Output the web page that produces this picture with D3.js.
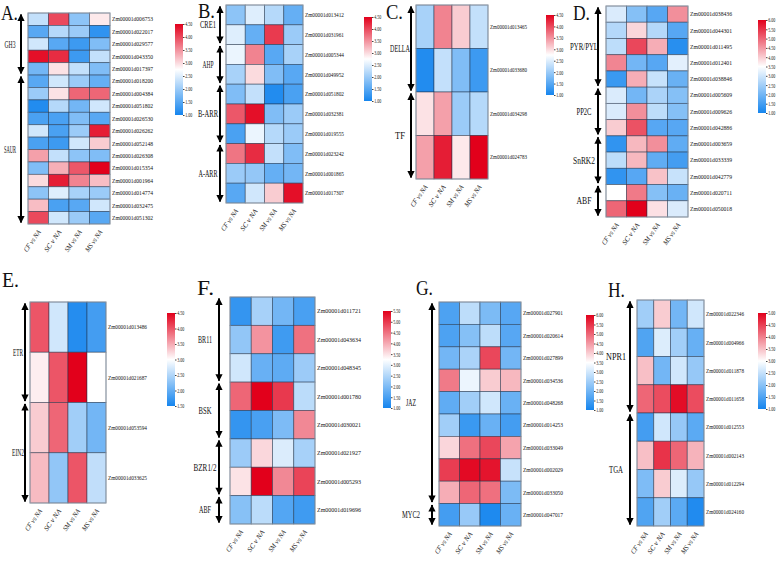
<!DOCTYPE html>
<html lang="en">
<head>
<meta charset="UTF-8">
<title>Heatmaps</title>
<script src="https://d3js.org/d3.v7.min.js"></script>
<style>
  body { margin: 0; background: #fff; }
  text { font-family: "Liberation Serif", "DejaVu Serif", serif; fill: #111; }
</style>
</head>
<body>
<svg id="chart" width="778" height="564"></svg>
<script>
// column labels shared by all panels
const columns = ["CF vs NA", "SC v NA", "SM vs NA", "MS vs NA"];

// A. auxin
const genesA = ["Zm00001d006753","Zm00001d022017","Zm00001d029577","Zm00001d043350","Zm00001d017397",
  "Zm00001d018200","Zm00001d004384","Zm00001d051802","Zm00001d026530","Zm00001d026262","Zm00001d052148",
  "Zm00001d026308","Zm00001d015354","Zm00001d001964","Zm00001d014774","Zm00001d032475","Zm00001d051302"];
const groupsA = [["GH3", 5], ["SAUR", 12]];
const valuesA = [
  [2.3,4.0,1.9,2.9],[1.5,2.2,2.0,1.2],[2.4,1.5,1.3,1.8],[4.4,4.2,1.3,2.3],[1.7,2.95,2.3,1.8],
  [1.5,2.4,2.0,1.6],[2.0,2.95,3.8,3.8],[1.1,2.2,1.7,2.4],[1.4,1.4,1.8,1.5],[2.4,1.4,2.0,4.3],
  [1.4,1.3,2.4,3.1],[3.4,2.3,1.9,1.8],[1.8,3.3,3.9,4.5],[3.0,4.3,3.6,3.2],[1.9,2.5,2.1,2.0],
  [3.2,1.4,1.5,2.4],[4.0,2.4,2.0,1.5]];

// B. cytokinin
const genesB = ["Zm00001d013412","Zm00001d031961","Zm00001d005344","Zm00001d049952","Zm00001d051802",
  "Zm00001d032381","Zm00001d019555","Zm00001d023242","Zm00001d001865","Zm00001d017307"];
const groupsB = [["CRE1", 2], ["AHP", 2], ["B-ARR", 3], ["A-ARR", 3]];
const valuesB = [
  [1.9,2.5,2.2,1.6],[2.5,1.6,4.1,2.0],[2.6,3.6,1.5,2.1],[2.1,3.0,1.8,1.5],[1.8,2.3,1.1,1.4],
  [3.9,4.4,1.8,2.0],[1.4,2.6,2.2,2.0],[3.7,4.2,2.3,1.8],[2.0,1.95,1.6,1.7],[1.5,2.4,3.1,4.4]];

// C. gibberellin
const genesC = ["Zm00001d013465","Zm00001d033680","Zm00001d034298","Zm00001d024783"];
const groupsC = [["DELLA", 2], ["TF", 2]];
const valuesC = [[2.1,3.6,3.1,2.3],[1.1,2.3,1.8,1.3],[2.95,3.4,2.0,2.2],[3.4,4.3,2.9,4.5]];

// D. abscisic acid
const genesD = ["Zm00001d038436","Zm00001d044301","Zm00001d011495","Zm00001d012401","Zm00001d038846",
  "Zm00001d005609","Zm00001d009626","Zm00001d042886","Zm00001d003659","Zm00001d033339",
  "Zm00001d042779","Zm00001d020711","Zm00001d050018"];
const groupsD = [["PYR/PYL", 5], ["PP2C", 3], ["SnRK2", 3], ["ABF", 2]];
const valuesD = [
  [3.1,2.2,1.7,4.6],[2.7,3.9,2.7,1.7],[2.8,5.3,4.3,1.2],[4.7,2.0,1.7,3.2],[1.4,4.3,2.9,1.9],
  [3.1,2.0,2.6,2.2],[3.1,4.6,2.8,2.2],[4.0,5.2,1.7,1.7],[1.3,4.2,4.6,1.8],[2.8,4.2,1.8,1.5],
  [1.3,1.7,4.1,2.9],[3.5,4.8,2.2,1.9],[5.0,6.0,3.8,3.1]];

// E. ethylene
const genesE = ["Zm00001d013486","Zm00001d021687","Zm00001d053594","Zm00001d033625"];
const groupsE = [["ETR", 2], ["EIN2", 2]];
const valuesE = [[4.0,2.7,1.6,1.8],[3.1,4.0,4.5,3.0],[3.3,3.9,2.4,2.1],[3.4,2.3,4.0,2.6]];

// F. brassinosteroid
const genesF = ["Zm00001d011721","Zm00001d043634","Zm00001d048345","Zm00001d001780","Zm00001d030021",
  "Zm00001d021927","Zm00001d005293","Zm00001d019696"];
const groupsF = [["BR11", 3], ["BSK", 2], ["BZR1/2", 2], ["ABF", 1]];
const valuesF = [
  [1.3,2.4,1.9,1.5],[2.2,4.2,1.4,4.5],[2.8,1.8,1.7,2.3],[4.6,5.5,5.0,2.6],
  [1.3,1.5,2.0,4.3],[2.3,3.6,2.9,2.4],[3.5,5.5,4.3,4.9],[2.1,2.6,1.6,1.4]];

// G. jasmonic acid
const genesG = ["Zm00001d027901","Zm00001d020614","Zm00001d027899","Zm00001d034536","Zm00001d048268",
  "Zm00001d014253","Zm00001d033049","Zm00001d002029","Zm00001d033050","Zm00001d047017"];
const groupsG = [["JAZ", 9], ["MYC2", 1]];
const valuesG = [
  [1.6,2.8,2.1,1.7],[1.6,2.2,2.8,1.7],[2.0,2.6,5.3,2.0],[4.8,3.3,4.0,4.2],[1.8,2.5,3.0,1.9],
  [2.5,1.4,1.9,1.5],[3.9,4.9,5.3,4.4],[5.4,5.9,5.8,2.9],[4.3,5.0,4.9,2.1],[1.5,2.4,1.1,1.9]];

// H. salicylic acid
const genesH = ["Zm00001d022346","Zm00001d004966","Zm00001d011878","Zm00001d011658","Zm00001d012553",
  "Zm00001d002143","Zm00001d012294","Zm00001d024160"];
const groupsH = [["NPR1", 4], ["TGA", 4]];
const valuesH = [
  [2.2,3.4,1.8,2.6],[1.5,2.7,2.2,1.7],[3.5,1.8,2.6,2.1],[4.2,4.4,4.9,4.4],
  [1.4,2.6,2.1,1.6],[3.5,4.6,4.2,3.6],[1.9,3.4,2.7,2.1],[1.5,2.2,1.6,1.1]];

// legend ranges
const domainA = [1, 4.5], domainB = [1, 4.5], domainC = [1, 4.5], domainD = [1, 6];
const domainE = [1.5, 4.5], domainF = [1, 5.5], domainG = [1, 6], domainH = [1, 5];

// layout of each panel
const panels = [
  { name: "A.", genes: genesA, groups: groupsA, values: valuesA, domain: domainA,
    x0: 28, x1: 110, y0: 13, y1: 224, arrowX: 21, labelX: 10, lx: 175, ly0: 24, ly1: 115,
    letter: [1, 20], geneLen: 41, gw: { GH3: 11, SAUR: 12 } },
  { name: "B.", genes: genesB, groups: groupsB, values: valuesB, domain: domainB,
    x0: 226, x1: 303, y0: 5, y1: 203, arrowX: 220, labelX: 208, lx: 364, ly0: 17, ly1: 101,
    letter: [198, 18], geneLen: 39, gw: { "CRE1": 16, "AHP": 11, "B-ARR": 20, "A-ARR": 19 } },
  { name: "C.", genes: genesC, groups: groupsC, values: valuesC, domain: domainC,
    x0: 416, x1: 488, y0: 5, y1: 179, arrowX: 411, labelX: 400, lx: 546, ly0: 15, ly1: 95,
    letter: [386, 19], geneLen: 37, gw: { DELLA: 20, TF: 10 } },
  { name: "D.", genes: genesD, groups: groupsD, values: valuesD, domain: domainD,
    x0: 606, x1: 688, y0: 6, y1: 217, arrowX: 598, labelX: 584, lx: 758, ly0: 20, ly1: 113,
    letter: [573, 20], geneLen: 42, gw: { "PYR/PYL": 28, PP2C: 15, SnRK2: 22, ABF: 15 } },
  { name: "E.", genes: genesE, groups: groupsE, values: valuesE, domain: domainE,
    x0: 30, x1: 106, y0: 302, y1: 503, arrowX: 25, labelX: 18, lx: 167, ly0: 313, ly1: 406,
    letter: [2, 287], geneLen: 39, gw: { ETR: 10, EIN2: 12 } },
  { name: "F.", genes: genesF, groups: groupsF, values: valuesF, domain: domainF,
    x0: 230, x1: 315, y0: 297, y1: 524, arrowX: 219, labelX: 205, lx: 383, ly0: 311, ly1: 408,
    letter: [197, 295], geneLen: 44, gw: { BR11: 14, BSK: 13, "BZR1/2": 23, ABF: 12 } },
  { name: "G.", genes: genesG, groups: groupsG, values: valuesG, domain: domainG,
    x0: 439, x1: 521, y0: 302, y1: 526, arrowX: 432, labelX: 411, lx: 586, ly0: 315, ly1: 410,
    letter: [416, 295], geneLen: 40, gw: { JAZ: 10, MYC2: 18 } },
  { name: "H.", genes: genesH, groups: groupsH, values: valuesH, domain: domainH,
    x0: 637, x1: 704, y0: 300, y1: 526, arrowX: 630, labelX: 616, lx: 758, ly0: 313, ly1: 409,
    letter: [608, 297], geneLen: 38, gw: { NPR1: 20, TGA: 14 } }
];

const svg = d3.select("#chart");
const defs = svg.append("defs");
const BLUE = "#1585ee", WHITE = "#ffffff", RED = "#e2001b";

// arrow head marker
defs.append("marker").attr("id", "head")
  .attr("viewBox", "0 0 10 10").attr("refX", 9).attr("refY", 5)
  .attr("markerWidth", 3.8).attr("markerHeight", 3.6).attr("orient", "auto-start-reverse")
  .append("path").attr("d", "M0,0 L10,5 L0,10 z").attr("fill", "#000");

panels.forEach((p, pi) => {
  const g = svg.append("g");
  const mid = (p.domain[0] + p.domain[1]) / 2;
  const color = d3.scaleLinear().domain([p.domain[0], mid, p.domain[1]])
    .range([BLUE, WHITE, RED]).clamp(true);

  const x = d3.scaleBand().domain(columns).range([p.x0, p.x1]);
  const y = d3.scaleBand().domain(p.genes).range([p.y0, p.y1]);

  // cells
  const cells = [];
  p.values.forEach((row, ri) => row.forEach((v, ci) => cells.push({ gene: p.genes[ri], col: columns[ci], v })));
  g.selectAll("rect.cell").data(cells).join("rect")
    .attr("class", "cell")
    .attr("x", d => x(d.col)).attr("y", d => y(d.gene))
    .attr("width", x.bandwidth()).attr("height", y.bandwidth())
    .attr("fill", d => color(d.v))
    .attr("stroke", "#1e2e46").attr("stroke-opacity", 0.6).attr("stroke-width", 0.8);

  g.append("rect").attr("x", p.x0).attr("y", p.y0)
    .attr("width", p.x1 - p.x0).attr("height", p.y1 - p.y0)
    .attr("fill", "none").attr("stroke", "#9aa4b0").attr("stroke-width", 0.8);

  // gene labels
  g.selectAll("text.gene").data(p.genes).join("text")
    .attr("class", "gene")
    .attr("x", p.x1 + 2).attr("y", d => y(d) + y.bandwidth() / 2 + 2.2)
    .attr("font-size", 6.5)
    .attr("textLength", p.geneLen).attr("lengthAdjust", "spacingAndGlyphs")
    .text(d => d);

  // column labels
  g.selectAll("text.col").data(columns).join("text")
    .attr("class", "col")
    .attr("transform", d => `translate(${x(d) + x.bandwidth() / 2 + 3},${p.y1 + 8}) rotate(-55)`)
    .attr("text-anchor", "end").attr("font-size", 7).attr("font-style", "italic")
    .attr("textLength", 25).attr("lengthAdjust", "spacingAndGlyphs")
    .text(d => d);

  // group arrows and labels
  let start = 0;
  p.groups.forEach(([label, n]) => {
    const top = y(p.genes[start]);
    const bot = y(p.genes[start + n - 1]) + y.bandwidth();
    g.append("line")
      .attr("x1", p.arrowX).attr("x2", p.arrowX)
      .attr("y1", top + 1.5).attr("y2", bot - 1.5)
      .attr("stroke", "#000").attr("stroke-width", 2)
      .attr("marker-start", "url(#head)").attr("marker-end", "url(#head)");
    g.append("text")
      .attr("x", p.labelX).attr("y", (top + bot) / 2 + 3.5)
      .attr("text-anchor", "middle").attr("font-size", 10)
      .attr("textLength", p.gw[label]).attr("lengthAdjust", "spacingAndGlyphs")
      .text(label);
    start += n;
  });

  // panel letter
  g.append("text").attr("x", p.letter[0]).attr("y", p.letter[1])
    .attr("font-size", 20).attr("textLength", 17).attr("lengthAdjust", "spacingAndGlyphs")
    .text(p.name);

  // colour legend
  const gid = "grad" + pi;
  const grad = defs.append("linearGradient").attr("id", gid)
    .attr("x1", 0).attr("y1", 1).attr("x2", 0).attr("y2", 0);
  grad.append("stop").attr("offset", "0%").attr("stop-color", BLUE);
  grad.append("stop").attr("offset", "50%").attr("stop-color", WHITE);
  grad.append("stop").attr("offset", "100%").attr("stop-color", RED);
  g.append("rect").attr("x", p.lx).attr("y", p.ly0)
    .attr("width", 8).attr("height", p.ly1 - p.ly0)
    .attr("fill", `url(#${gid})`);

  const ly = d3.scaleLinear().domain(p.domain).range([p.ly1, p.ly0]);
  const ticks = d3.range(p.domain[0], p.domain[1] + 0.001, 0.5);
  const axis = d3.axisRight(ly).tickValues(ticks).tickFormat(d3.format(".2f")).tickSize(1.5).tickPadding(0.8);
  const ag = g.append("g").attr("transform", `translate(${p.lx + 8},0)`).call(axis);
  ag.select(".domain").remove();
  ag.selectAll("line").attr("stroke", "#444");
  ag.selectAll("text").attr("font-size", 6).attr("font-family", "Liberation Serif")
    .attr("fill", "#222").attr("textLength", 7).attr("lengthAdjust", "spacingAndGlyphs");
});
</script>
</body>
</html>
